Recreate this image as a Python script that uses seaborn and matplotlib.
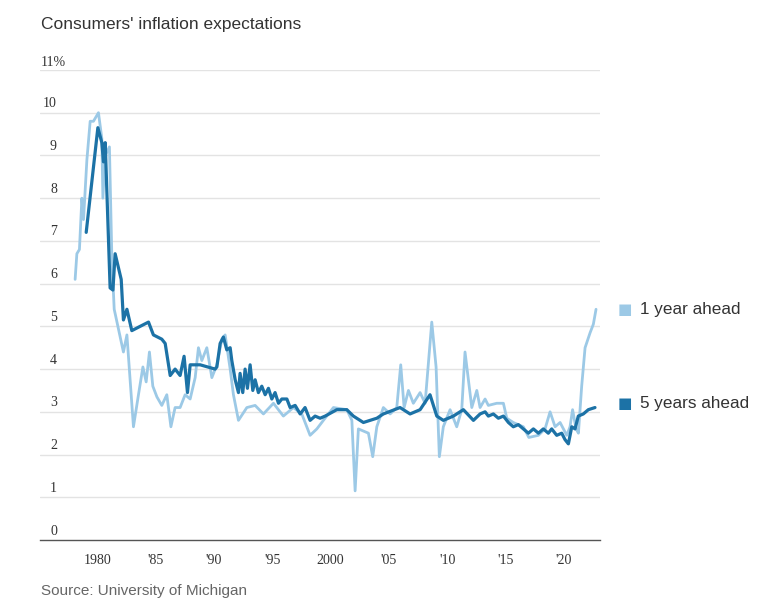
import pandas as pd
import matplotlib.pyplot as plt
import matplotlib.transforms as mtransforms
import seaborn as sns

# values (decimal year, percent)
one_year_x = [1978.11, 1978.26, 1978.48, 1978.69, 1978.83, 1979.12, 1979.40, 1979.68, 1980.11,
              1980.40, 1980.49, 1980.69, 1981.05, 1981.26, 1981.46, 1981.54, 1982.25, 1982.55,
              1983.11, 1983.54, 1983.92, 1984.20, 1984.48, 1984.77, 1985.12, 1985.54, 1985.97,
              1986.32, 1986.68, 1987.11, 1987.54, 1987.97, 1988.40, 1988.68, 1988.97, 1989.40,
              1989.83, 1990.26, 1990.69, 1990.97, 1991.40, 1991.68, 1992.11, 1992.83, 1993.54,
              1994.25, 1995.11, 1995.96, 1996.82, 1997.54, 1998.25, 1998.83, 1999.39, 2000.25,
              2001.40, 2001.83, 2002.11, 2002.39, 2003.25, 2003.62, 2003.97, 2004.53, 2005.11,
              2005.68, 2006.02, 2006.31, 2006.68, 2007.10, 2007.68, 2008.11, 2008.68, 2009.05,
              2009.33, 2009.67, 2010.25, 2010.82, 2011.25, 2011.53, 2011.82, 2012.11, 2012.54,
              2012.82, 2013.25, 2013.53, 2014.25, 2014.82, 2015.11, 2015.67, 2016.53, 2017.00,
              2017.82, 2018.39, 2018.82, 2019.25, 2019.68, 2020.25, 2020.53, 2020.75, 2021.05,
              2021.25, 2021.53, 2021.82, 2022.25, 2022.53, 2022.76]
one_year_y = [6.1, 6.7, 6.8, 8.0, 7.5, 8.9, 9.8, 9.8, 10.0,
              9.4, 8.0, 9.0, 9.2, 6.6, 5.4, 5.3, 4.4, 4.8,
              2.65, 3.4, 4.05, 3.7, 4.4, 3.6, 3.35, 3.15, 3.4,
              2.65, 3.1, 3.1, 3.4, 3.3, 3.8, 4.5, 4.2, 4.5,
              3.8, 4.1, 4.7, 4.8, 4.0, 3.4, 2.8, 3.1, 3.15,
              2.95, 3.2, 2.9, 3.1, 2.95, 2.45, 2.6, 2.8, 3.1,
              3.05, 2.8, 1.15, 2.6, 2.5, 1.95, 2.65, 3.1, 2.95,
              3.1, 4.1, 3.1, 3.5, 3.2, 3.45, 3.2, 5.1, 4.05,
              1.95, 2.65, 3.05, 2.65, 3.05, 4.4, 3.75, 3.1, 3.5,
              3.1, 3.3, 3.15, 3.2, 3.2, 2.85, 2.75, 2.65, 2.4,
              2.45, 2.6, 3.0, 2.65, 2.75, 2.45, 2.65, 3.05, 2.6,
              2.5, 3.6, 4.5, 4.85, 5.05, 5.4]

five_year_x = [1979.06, 1980.06, 1980.40, 1980.54, 1980.69, 1981.11, 1981.35, 1981.54, 1982.06,
               1982.25, 1982.55, 1982.97, 1983.68, 1984.40, 1984.82, 1985.54, 1985.83, 1986.26,
               1986.68, 1987.11, 1987.45, 1987.74, 1987.97, 1988.83, 1990.11, 1990.26, 1990.54,
               1990.82, 1991.11, 1991.40, 1991.54, 1991.83, 1992.11, 1992.25, 1992.48, 1992.68,
               1992.88, 1993.11, 1993.34, 1993.54, 1993.82, 1994.11, 1994.40, 1994.68, 1994.97,
               1995.25, 1995.54, 1995.83, 1996.26, 1996.54, 1996.97, 1997.40, 1997.82, 1998.25,
               1998.68, 1999.11, 1999.54, 2000.54, 2001.40, 2001.96, 2002.82, 2003.39, 2003.97,
               2004.53, 2005.96, 2006.82, 2007.68, 2008.53, 2009.11, 2009.67, 2010.53, 2011.39,
               2012.25, 2012.82, 2013.25, 2013.53, 2013.96, 2014.39, 2014.82, 2015.25, 2015.67,
               2016.10, 2016.53, 2016.96, 2017.39, 2017.82, 2018.24, 2018.67, 2018.96, 2019.39,
               2019.82, 2020.10, 2020.39, 2020.68, 2020.96, 2021.24, 2021.67, 2022.10, 2022.67]
five_year_y = [7.2, 9.65, 9.3, 8.85, 9.3, 5.9, 5.85, 6.7, 6.1,
               5.15, 5.4, 4.9, 5.0, 5.1, 4.8, 4.7, 4.6, 3.85,
               4.0, 3.85, 4.3, 3.45, 4.1, 4.1, 4.0, 4.05, 4.6,
               4.75, 4.45, 4.5, 4.2, 3.75, 3.45, 3.9, 3.45, 4.0,
               3.55, 4.1, 3.5, 3.75, 3.45, 3.6, 3.4, 3.55, 3.3,
               3.45, 3.2, 3.3, 3.3, 3.1, 3.15, 2.95, 3.1, 2.8,
               2.9, 2.85, 2.9, 3.05, 3.05, 2.9, 2.75, 2.8, 2.85,
               2.95, 3.1, 2.95, 3.05, 3.4, 2.9, 2.8, 2.9, 3.05,
               2.8, 2.95, 3.0, 2.9, 2.95, 2.85, 2.9, 2.75, 2.65,
               2.7, 2.6, 2.5, 2.6, 2.5, 2.6, 2.5, 2.6, 2.45,
               2.5, 2.35, 2.25, 2.65, 2.6, 2.9, 2.95, 3.05, 3.1]

series_names = ["1 year ahead", "5 years ahead"]
y_ticks = list(range(0, 12))
x_majors = [1980, 1985, 1990, 1995, 2000, 2005, 2010, 2015, 2020]
x_labels = ["1980", "'85", "'90", "'95", "2000", "'05", "'10", "'15", "'20"]

df = pd.concat([
    pd.DataFrame({"year": one_year_x, "value": one_year_y, "series": series_names[0]}),
    pd.DataFrame({"year": five_year_x, "value": five_year_y, "series": series_names[1]}),
])

light = "#9cc9e6"
dark = "#1c72a6"
serif = ["Liberation Serif", "DejaVu Serif"]

sns.set_style("white")
plt.rcParams["font.family"] = ["Liberation Sans", "DejaVu Sans"]

fig = plt.figure(figsize=(7.6, 6.13), dpi=100)
ax = fig.add_axes([40 / 760, 1 - 540 / 613, 560 / 760, 470 / 613])

sns.lineplot(data=df, x="year", y="value", hue="series", palette=[light, dark],
             linewidth=2.0, ax=ax, legend=False, sort=False, estimator=None)
ax.lines[1].set_linewidth(2.3)

ax.set_xlim(1975.1, 2023.1)
ax.set_ylim(0, 11)
ax.set_xlabel("")
ax.set_ylabel("")

# gridlines
for v in y_ticks[1:]:
    ax.axhline(v, color="#e3e3e3", lw=1, zorder=0)
for s in ["top", "right", "left"]:
    ax.spines[s].set_visible(False)
ax.spines["bottom"].set_color("#555555")
ax.spines["bottom"].set_linewidth(1.0)

# y labels sit above the gridlines
ax.set_yticks([])
ytrans = mtransforms.blended_transform_factory(fig.transFigure, ax.transData)
for v in y_ticks:
    if v == 11:
        ax.text(41 / 760, v + 0.17, "11%", transform=ytrans, ha="left", va="center",
                fontsize=10, color="#333333", family=serif)
    else:
        ax.text(57 / 760, v + 0.21, str(v), transform=ytrans, ha="right", va="center",
                fontsize=10, color="#333333", family=serif)

ax.set_xticks(x_majors)
ax.set_xticklabels(x_labels, family=serif, fontsize=10, color="#333333")
ax.set_xticks(range(1976, 2024), minor=True)
ax.tick_params(axis="x", which="major", length=5, width=1, color="#555555", direction="out", pad=5)
ax.tick_params(axis="x", which="minor", length=3, width=0.8, color="#555555", direction="out")

# legend on the right
leg_y = [5.4, 3.2]
for name, col, ly in zip(series_names, [light, dark], leg_y):
    fy = 1 - (540 - ly * 42.7) / 613
    fig.text(618 / 760, fy, "\u25A0", color=col, fontsize=11, va="center", ha="left", family=["DejaVu Sans"])
    fig.text(640 / 760, fy, name, color="#333333", fontsize=12.3, va="center", ha="left")

fig.text(41 / 760, 1 - 25 / 613, "Consumers' inflation expectations", fontsize=12.5, color="#333333",
         va="center", ha="left")
fig.text(41 / 760, 1 - 591 / 613, "Source: University of Michigan", fontsize=11, color="#666666",
         va="center", ha="left")

fig.savefig("out.png", dpi=100)
